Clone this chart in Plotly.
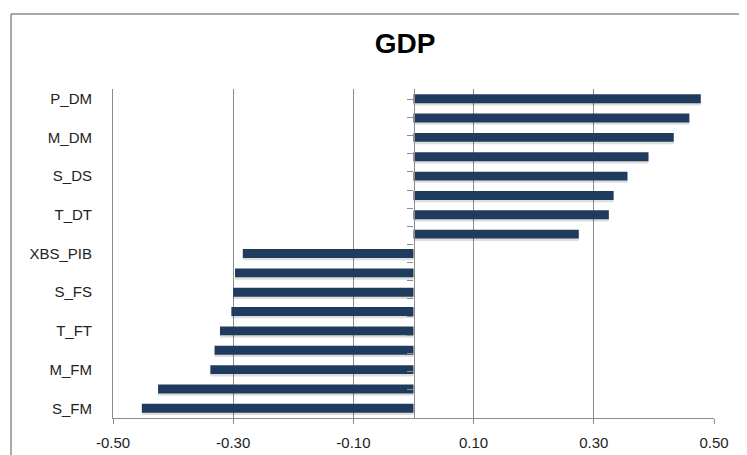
import plotly.graph_objects as go

# ---- data (top to bottom) ----
categories = ["P_DM", "T_DM", "M_DM", "P_DS", "S_DS", "M_DS", "T_DT", "S_DT",
              "XBS_PIB", "P_FS", "S_FS", "M_FS", "T_FT", "S_FT", "M_FM", "P_FM", "S_FM"]
values = [0.478, 0.459, 0.433, 0.391, 0.356, 0.333, 0.325, 0.275,
          -0.284, -0.297, -0.300, -0.303, -0.322, -0.331, -0.338, -0.425, -0.452]
shown_labels = categories[::2]
x_ticks = [-0.5, -0.3, -0.1, 0.1, 0.3, 0.5]
x_tick_labels = ["-0.50", "-0.30", "-0.10", "0.10", "0.30", "0.50"]
title_text = "GDP"

# page renders the figure with an 8px body margin; compensate in the margins
OFF = 8
W, H = 747, 455
PL, PR, PT, PB = 113, 714, 89, 418          # desired plot box in page pixels
L, T = PL - OFF, PT - OFF
R = W - L - (PR - PL)
B = H - T - (PB - PT)

grey = "#8c8c8c"
bar_color = "#1f3b5e"
tick_font = dict(family="Liberation Sans, Arial, sans-serif", size=15, color="#222222")

fig = go.Figure()

# soft shadow under bars
fig.add_trace(go.Bar(
    x=values, y=categories, orientation="h",
    marker=dict(color="rgba(0,0,0,0.13)", line=dict(width=0)),
    width=0.46, offset=-0.23 + 0.12,
    hoverinfo="skip", showlegend=False,
))
fig.add_trace(go.Bar(
    x=values, y=categories, orientation="h",
    marker=dict(color=bar_color, line=dict(width=0)),
    width=0.46, offset=-0.23,
    showlegend=False,
))
# invisible trace to carry the category axis drawn at x = 0
fig.add_trace(go.Scatter(
    x=[0] * len(categories), y=categories, yaxis="y2", mode="markers",
    marker=dict(size=1, opacity=0), hoverinfo="skip", showlegend=False,
))

def paper_x(page_px):
    return (page_px - PL) / (PR - PL)

def paper_y(page_px):
    return (PB - page_px) / (PB - PT)

fig.update_layout(
    template="none",
    width=W, height=H, autosize=False, showlegend=False,
    margin=dict(l=L, r=R, t=T, b=B, pad=0, autoexpand=False),
    paper_bgcolor="white", plot_bgcolor="white",
    barmode="overlay",
    title=dict(text="<b>%s</b>" % title_text, x=(405 - OFF) / W, xanchor="center",
               xref="container", yref="container", y=1 - (43 - OFF) / H, yanchor="middle",
               automargin=False,
               font=dict(family="Liberation Sans, Arial, sans-serif", size=28, color="#000000")),
    xaxis=dict(
        range=[-0.5, 0.5], tickmode="array", tickvals=x_ticks, ticktext=x_tick_labels,
        showgrid=True, gridcolor=grey, gridwidth=1, zeroline=False, automargin=False,
        showline=True, linecolor=grey, linewidth=1.3,
        ticks="outside", ticklen=5, tickcolor=grey, tickwidth=1.3,
        tickfont=tick_font, ticklabelstandoff=6,
    ),
    yaxis=dict(
        type="category", categoryorder="array", categoryarray=categories,
        autorange="reversed", tickmode="array", tickvals=shown_labels, automargin=False,
        showgrid=False, zeroline=False, showline=True, linecolor=grey, linewidth=1, ticks="",
        tickfont=tick_font, ticklabelstandoff=17,
    ),
    yaxis2=dict(
        type="category", categoryorder="array", categoryarray=categories,
        autorange="reversed", overlaying="y", anchor="free", position=0.5, side="left",
        showgrid=False, zeroline=False, showline=True, linecolor=grey, linewidth=1.3,
        ticks="outside", ticklen=6, tickcolor=grey, tickwidth=1.3, tickson="boundaries",
        tickmode="linear", tick0=0, dtick=1, showticklabels=False, automargin=False,
    ),
    shapes=[
        dict(type="line", xref="paper", yref="paper",
             x0=paper_x(11), x1=paper_x(800), y0=paper_y(14), y1=paper_y(14),
             line=dict(color=grey, width=1.5), layer="below"),
        dict(type="line", xref="paper", yref="paper",
             x0=paper_x(11), x1=paper_x(11), y0=paper_y(14), y1=paper_y(500),
             line=dict(color=grey, width=1.5), layer="below"),
    ],
)

fig.write_html("out.html")
